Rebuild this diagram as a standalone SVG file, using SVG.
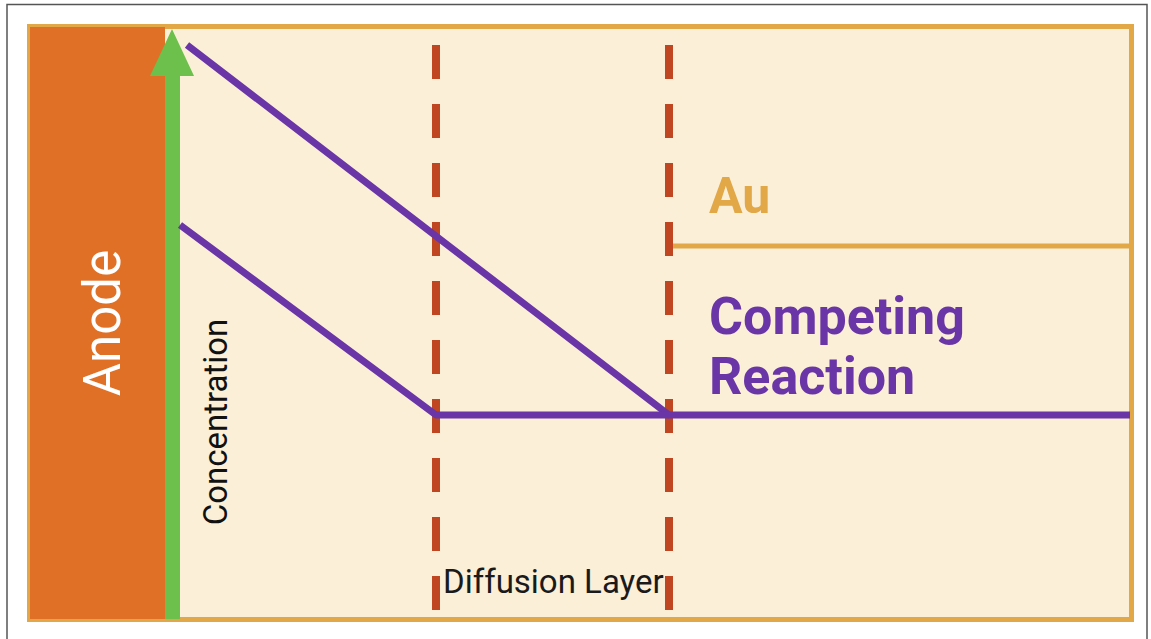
<svg xmlns="http://www.w3.org/2000/svg" width="1151" height="639" viewBox="0 0 1151 639">
<defs>
<style>
.frame{fill:none;stroke:#555;stroke-width:1.5}
.panel{fill:#FBEFD8;stroke:#E2A747;stroke-width:5}
.dash{stroke:#BF4620;stroke-width:8;stroke-dasharray:34 25}
.curve{fill:none;stroke:#6A35A6;stroke-width:7;stroke-linejoin:round}
.au-line{stroke:#E2A747;stroke-width:5}
.lbl{font-family:Roboto,"Liberation Sans",sans-serif}
</style>
</defs>
<rect x="0" y="0" width="1151" height="639" fill="#fff"/>
<path class="frame" d="M7,639 V4.5 H1147 V639"/>
<g id="panel">
<rect class="panel" x="29.5" y="26.5" width="1102" height="593"/>
</g>
<g id="anode">
<rect x="30" y="27" width="135" height="592" fill="#E07026"/>
<text class="lbl" transform="translate(120,323) rotate(-90)" text-anchor="middle" font-size="51" fill="#fff">Anode</text>
</g>
<g id="concentration-axis">
<rect x="165" y="74" width="15" height="545" fill="#6CC04B"/>
<polygon points="172,29 150,76 194,76" fill="#6CC04B"/>
<text class="lbl" transform="translate(227,422) rotate(-90)" text-anchor="middle" font-size="33" fill="#111">Concentration</text>
</g>
<g id="diffusion-layer">
<line class="dash" x1="436" y1="45" x2="436" y2="612"/>
<line class="dash" x1="669" y1="45" x2="669" y2="612"/>
<text class="lbl" x="443" y="593" font-size="33" fill="#1a1a1a">Diffusion Layer</text>
</g>
<g id="au">
<line class="au-line" x1="673" y1="246" x2="1130" y2="246"/>
<text class="lbl" x="709" y="213" font-size="50" font-weight="bold" fill="#E2A747">Au</text>
</g>
<g id="competing-reaction">
<text class="lbl" x="709" y="334" font-size="52" font-weight="bold" fill="#6A35A6">Competing</text>
<text class="lbl" x="709" y="394" font-size="52" font-weight="bold" fill="#6A35A6">Reaction</text>
</g>
<g id="connectors">
<polyline class="curve" points="187,45 669,415 1130,415"/>
<polyline class="curve" points="180,225 436,415 669,415"/>
</g>
</svg>
